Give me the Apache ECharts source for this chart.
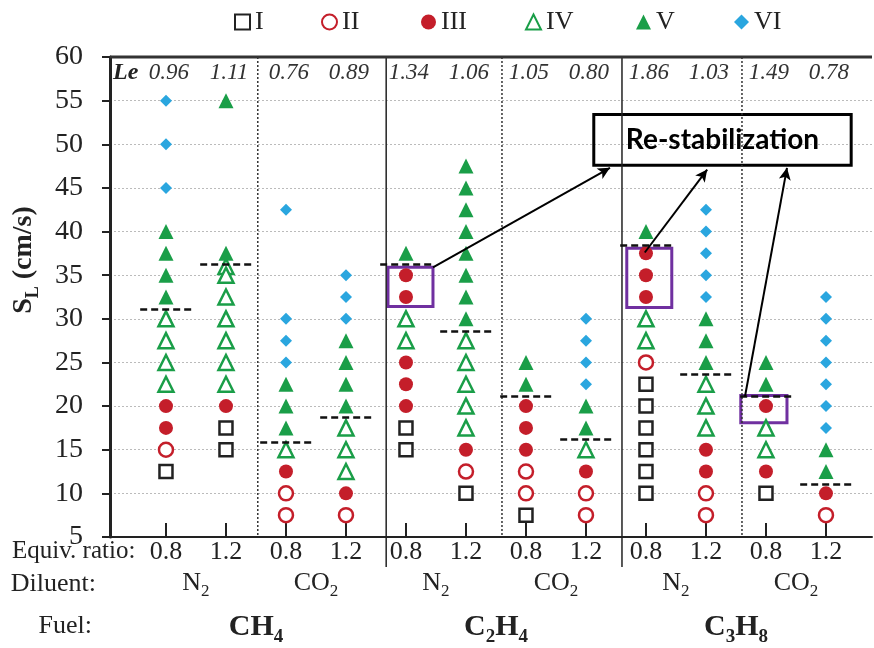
<!DOCTYPE html>
<html>
<head>
<meta charset="utf-8">
<script src="https://cdn.jsdelivr.net/npm/echarts@6/dist/echarts.min.js"></script>
<style>
  html, body { margin: 0; padding: 0; background: #fff; }
  #chart { width: 874px; height: 648px; }
</style>
</head>
<body>
<div id="chart"></div>
<script>
// 列位置（每两列一组：燃料 × 稀释剂）
var cols = [1, 2, 3, 4, 5, 6, 7, 8, 9, 10, 11, 12];
var ratios = ['0.8', '1.2', '0.8', '1.2', '0.8', '1.2', '0.8', '1.2', '0.8', '1.2', '0.8', '1.2'];
var leValues = ['0.96', '1.11', '0.76', '0.89', '1.34', '1.06', '1.05', '0.80', '1.86', '1.03', '1.49', '0.78'];
var thresholds = [31.1, 36.3, 15.9, 18.7, 36.2, 28.6, 21.1, 16.2, 38.4, 23.6, 21.1, 11.1];
var diluents = ['N2', 'CO2', 'N2', 'CO2', 'N2', 'CO2'];
var fuels = ['CH4', 'C2H4', 'C3H8'];
// 分隔线位置：虚线分稀释剂，实线分燃料
var dottedSeps = [2.53, 6.6, 10.6];
var solidSeps = [4.67, 8.6];

// 各类火焰状态，每列一组 S_L 值
var typeI   = [[12.5], [17.5, 15], [], [], [17.5, 15], [10], [7.5], [], [22.5, 20, 17.5, 15, 12.5, 10], [], [10], []];
var typeII  = [[15], [], [10, 7.5], [7.5], [], [12.5], [12.5, 10], [10, 7.5], [25], [10, 7.5], [], [7.5]];
var typeIII = [[20, 17.5], [20], [12.5], [10], [35, 32.5, 25, 22.5, 20], [15], [20, 17.5, 15], [12.5], [37.5, 35, 32.5], [15, 12.5], [20, 12.5], [10]];
var typeIV  = [[30, 27.5, 25, 22.5], [36, 35, 32.5, 30, 27.5, 25, 22.5], [15], [17.5, 15, 12.5], [30, 27.5], [27.5, 25, 22.5, 20, 17.5], [], [15], [30, 27.5], [22.5, 20, 17.5], [17.5, 15], []];
var typeV   = [[40, 37.5, 35, 32.5], [55, 37.5], [22.5, 20, 17.5], [27.5, 25, 22.5, 20], [37.5], [47.5, 45, 42.5, 40, 37.5, 35, 32.5, 30], [25, 22.5], [20, 17.5], [40], [30, 27.5, 25], [25, 22.5], [15, 12.5]];
var typeVI  = [[55, 50, 45], [], [42.5, 30, 27.5, 25], [35, 32.5, 30], [], [], [], [30, 27.5, 25, 22.5], [], [42.5, 40, 37.5, 35, 32.5], [], [32.5, 30, 27.5, 25, 22.5, 20, 17.5]];

// 注释（数据坐标）
var boxes = [[4.70, 35.9, 5.45, 31.4], [8.68, 38.1, 9.43, 31.3], [10.58, 21.2, 11.35, 18.1]];
var arrows = [[5.45, 35.9, 8.40, 47.3], [8.98, 37.6, 10.02, 47.1], [10.65, 21.1, 11.35, 47.3]];
var noteBox = [8.13, 53.4, 12.42, 47.6];

(function () {
  var serif = 'Liberation Serif';
  var red = '#c41e2a', green = '#1a9e48', blue = '#2aa6df', black = '#222';

  function toPoints(list) {
    var pts = [];
    list.forEach(function (vals, i) {
      vals.forEach(function (v) { pts.push([cols[i], v]); });
    });
    return pts;
  }

  // 下标化学式
  function chem(s) {
    return s.replace(/([A-Za-z]+)/g, '{m|$1}').replace(/(\d)/g, '{s|$1}');
  }

  var chart = echarts.init(document.getElementById('chart'));

  var option = {
    animation: false,
    grid: { left: 110, right: 2, top: 57, bottom: 111 },
    legend: [
      { name: 'I', left: 229 }, { name: 'II', left: 316 }, { name: 'III', left: 416 },
      { name: 'IV', left: 520 }, { name: 'V', left: 631 }, { name: 'VI', left: 729 }
    ].map(function (l) {
      return {
        data: [l.name], left: l.left, top: 4, itemWidth: 15, itemHeight: 15, itemGap: 8,
        textStyle: { fontFamily: serif, fontSize: 26, color: black }
      };
    }),
    xAxis: {
      type: 'value', min: 0.067, max: 12.767,
      splitLine: { show: false },
      axisLine: { lineStyle: { color: black, width: 2 } },
      axisTick: { inside: true, length: 14, lineStyle: { color: black, width: 2 }, customValues: cols },
      axisLabel: {
        customValues: cols, margin: 2,
        fontFamily: serif, fontSize: 26, color: black,
        formatter: function (v) { return ratios[Math.round(v) - 1]; }
      }
    },
    yAxis: {
      type: 'value', min: 5, max: 60, interval: 5,
      axisLine: { show: true, lineStyle: { color: black, width: 3 } },
      axisTick: { show: true, length: 8, lineStyle: { color: black, width: 2 } },
      axisLabel: { fontFamily: serif, fontSize: 28, color: black, margin: 27 },
      splitLine: { lineStyle: { color: '#bbb', type: [2, 2], width: 1 } }
    },
    series: [
      { name: 'I', type: 'scatter', symbol: 'rect', symbolSize: 13, z: 3,
        itemStyle: { color: '#fff', borderColor: black, borderWidth: 2.5, opacity: 1 }, data: toPoints(typeI) },
      { name: 'II', type: 'scatter', symbol: 'circle', symbolSize: 14, z: 3,
        itemStyle: { color: '#fff', borderColor: red, borderWidth: 2.5, opacity: 1 }, data: toPoints(typeII) },
      { name: 'III', type: 'scatter', symbol: 'circle', symbolSize: 14, z: 3,
        itemStyle: { color: red, opacity: 1 }, data: toPoints(typeIII) },
      { name: 'IV', type: 'scatter', symbol: 'triangle', symbolSize: 15, z: 3,
        itemStyle: { color: '#fff', borderColor: green, borderWidth: 2.5, opacity: 1 }, data: toPoints(typeIV) },
      { name: 'V', type: 'scatter', symbol: 'triangle', symbolSize: 15, z: 3,
        itemStyle: { color: green, opacity: 1 }, data: toPoints(typeV) },
      { name: 'VI', type: 'scatter', symbol: 'diamond', symbolSize: 12, z: 3,
        itemStyle: { color: blue, opacity: 1 }, data: toPoints(typeVI) },
      {
        name: 'threshold', type: 'line', data: [], z: 4,
        markLine: {
          silent: true, symbol: 'none', label: { show: false },
          lineStyle: { type: [7, 4], color: '#111', width: 2.5 },
          data: thresholds.map(function (t, i) {
            return [{ coord: [cols[i] - 0.43, t] }, { coord: [cols[i] + 0.43, t] }];
          })
        }
      },
      {
        name: 'notes', type: 'line', data: [], z: 5,
        markArea: {
          silent: true,
          data: boxes.map(function (b) {
            return [{ coord: [b[0], b[1]], itemStyle: { color: 'transparent', borderColor: '#7030a0', borderWidth: 3 } },
                    { coord: [b[2], b[3]] }];
          }).concat([[
            { coord: [noteBox[0], noteBox[1]], name: 'Re-stabilization',
              itemStyle: { color: 'transparent', borderColor: '#000', borderWidth: 3 },
              label: { show: true, position: 'inside', fontFamily: 'Lato', fontWeight: 'bold', fontSize: 28, color: '#000' } },
            { coord: [noteBox[2], noteBox[3]] }
          ]])
        },
        markLine: {
          silent: true, symbol: ['none', 'arrow'], symbolSize: [9, 12], label: { show: false },
          lineStyle: { type: 'solid', color: '#000', width: 2 },
          data: arrows.map(function (a) {
            return [{ coord: [a[0], a[1]] }, { coord: [a[2], a[3]] }];
          })
        }
      }
    ]
  };
  chart.setOption(option);

  // 分隔线、Le 数值、底部标签
  function px(x, y) { return chart.convertToPixel({ gridIndex: 0 }, [x, y]); }
  var g = [];
  var topY = px(1, 60)[1], baseY = px(1, 5)[1];
  var leftX = px(0.067, 60)[0], rightX = px(12.767, 60)[0];
  g.push({ type: 'line', z: 10, shape: { x1: leftX, y1: topY, x2: rightX, y2: topY }, style: { stroke: '#333', lineWidth: 3 } });
  dottedSeps.forEach(function (x) {
    var p = px(x, 60)[0];
    g.push({ type: 'line', z: 2, shape: { x1: p, y1: topY, x2: p, y2: baseY }, style: { stroke: '#333', lineWidth: 1.5, lineDash: [2, 2] } });
  });
  solidSeps.forEach(function (x) {
    var p = px(x, 60)[0];
    g.push({ type: 'line', z: 2, shape: { x1: p, y1: topY, x2: p, y2: baseY + 30 }, style: { stroke: '#222', lineWidth: 1.5 } });
  });
  g.push({ type: 'text', x: leftX + 3, y: topY + 16, style: { text: 'Le', font: 'italic bold 24px ' + serif, fill: black, verticalAlign: 'middle' } });
  leValues.forEach(function (t, i) {
    var p = px(cols[i] + 0.05, 58.2);
    g.push({ type: 'text', x: p[0], y: p[1], style: { text: t, font: 'italic 23px ' + serif, fill: '#333', align: 'center', verticalAlign: 'middle' } });
  });
  g.push({ type: 'text', x: 12, y: baseY + 14, style: { text: 'Equiv. ratio:', font: '25px ' + serif, fill: black, verticalAlign: 'middle' } });
  g.push({ type: 'text', x: 96, y: baseY + 47, style: { text: 'Diluent:', font: '26px ' + serif, fill: black, align: 'right', verticalAlign: 'middle' } });
  g.push({ type: 'text', x: 92, y: baseY + 89, style: { text: 'Fuel:', font: '26px ' + serif, fill: black, align: 'right', verticalAlign: 'middle' } });
  diluents.forEach(function (d, i) {
    var p = px(cols[2 * i] + 0.5, 5)[0];
    g.push({ type: 'text', x: p, y: baseY + 46, style: {
      text: chem(d), align: 'center', verticalAlign: 'middle', fill: black,
      rich: { m: { fontFamily: serif, fontSize: 26, lineHeight: 34 }, s: { fontFamily: serif, fontSize: 17, lineHeight: 34, verticalAlign: 'bottom' } }
    } });
  });
  fuels.forEach(function (f, i) {
    var p = px(cols[4 * i] + 1.5, 5)[0];
    g.push({ type: 'text', x: p, y: baseY + 90, style: {
      text: chem(f), align: 'center', verticalAlign: 'middle', fill: black,
      rich: { m: { fontFamily: serif, fontWeight: 'bold', fontSize: 30, lineHeight: 40 }, s: { fontFamily: serif, fontWeight: 'bold', fontSize: 19, lineHeight: 40, verticalAlign: 'bottom' } }
    } });
  });
  g.push({ type: 'text', x: 24, y: 260, rotation: Math.PI / 2, style: {
    text: '{m|S}{s|L}{m| (cm/s)}', align: 'center', verticalAlign: 'middle', fill: black,
    rich: { m: { fontFamily: serif, fontWeight: 'bold', fontSize: 28, lineHeight: 36 }, s: { fontFamily: serif, fontWeight: 'bold', fontSize: 18, lineHeight: 36, verticalAlign: 'bottom' } }
  } });
  chart.setOption({ graphic: g });
})();
</script>
</body>
</html>
